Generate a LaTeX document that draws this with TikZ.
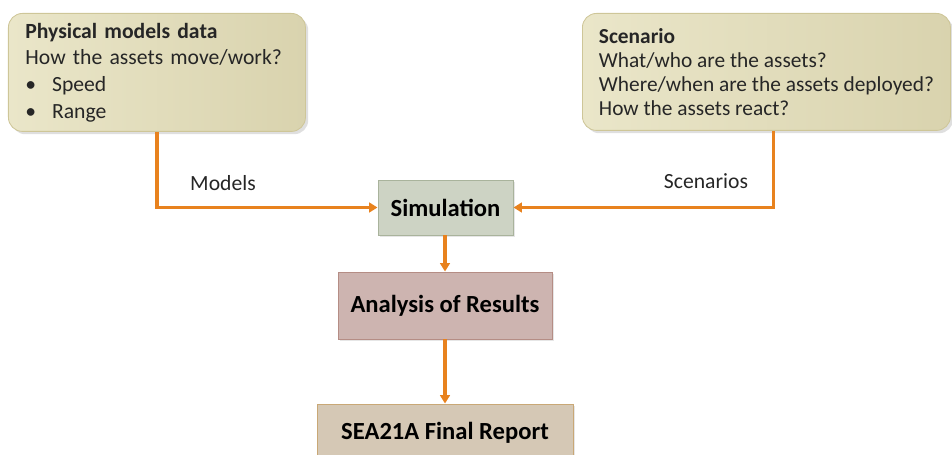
\documentclass[tikz,border=0pt]{standalone}
\usepackage{fontspec}
\setmainfont{Carlito}
\usepackage{xcolor}
\usetikzlibrary{positioning, arrows.meta, shadows}

\definecolor{olivelight}{HTML}{EAE6C9}
\definecolor{olivedark}{HTML}{D9D3AE}
\definecolor{oliveedge}{HTML}{CEC698}
\definecolor{simfill}{HTML}{CDD3C4}
\definecolor{simedge}{HTML}{A9B39C}
\definecolor{resfill}{HTML}{CDB4B0}
\definecolor{resedge}{HTML}{B58D85}
\definecolor{repfill}{HTML}{D5C8B5}
\definecolor{repedge}{HTML}{C9A876}
\definecolor{flowcol}{HTML}{E8821E}

\begin{document}
\begin{tikzpicture}[
  >={Triangle[length=6pt,width=7pt]},
  every node/.style={font=\fontsize{15.4}{19}\selectfont, text=black!85},
  databox/.style={draw=oliveedge, line width=0.6pt, rounded corners=10pt,
    left color=olivelight, right color=olivedark, anchor=north west, align=left,
    drop shadow={shadow xshift=2pt, shadow yshift=-2pt, opacity=0.25}},
  stagebox/.style={draw, line width=0.7pt, text=black,
    font=\fontsize{17.5}{20}\selectfont\bfseries,
    drop shadow={shadow xshift=1.5pt, shadow yshift=-1.5pt, opacity=0.2}},
  flow/.style={->, line width=2.4pt, flowcol}
]
\useasboundingbox (0,0) rectangle (23.8,-11.375);
\clip (0,0) rectangle (23.8,-11.375);

% Input data
\node[databox, minimum width=7.425cm, minimum height=2.95cm, inner xsep=0.425cm,
  text width=6.575cm] (physical) at (0.2,-0.325)
  {\textbf{Physical models data}\\How the assets move/work?\\
   \makebox[19pt][l]{\textbullet}Speed\\\makebox[19pt][l]{\textbullet}Range};
\node[databox, minimum width=9.2cm, minimum height=2.925cm,
  font=\fontsize{15.2}{17}\selectfont] (scenario) at (14.55,-0.325)
  {\textbf{Scenario}\\What/who are the assets?\\Where/when are the assets deployed?\\How the assets react?};

% Processing chain
\node[stagebox, fill=simfill, draw=simedge, minimum width=3.375cm, minimum height=1.375cm]
  (simulation) at (11.1375,-5.1875) {Simulation};
\node[stagebox, fill=resfill, draw=resedge, minimum width=5.35cm, minimum height=1.675cm]
  (analysis) at (11.125,-7.6375) {Analysis of Results};
\node[stagebox, fill=repfill, draw=repedge, minimum width=6.4cm, minimum height=1.45cm]
  (report) at (11.125,-10.825) {SEA21A Final Report};

% Flows
\draw[flow] (physical.south) |- (simulation.west);
\draw[flow] ([xshift=0.175cm]scenario.south) |- (simulation.east);
\draw[flow] (simulation.south -| analysis.north) -- (analysis.north);
\draw[flow] (analysis.south) -- (report.north);

\node (models) at (5.575,-4.575) {Models};
\node (scenarios) at (17.65,-4.525) {Scenarios};

\end{tikzpicture}
\end{document}
